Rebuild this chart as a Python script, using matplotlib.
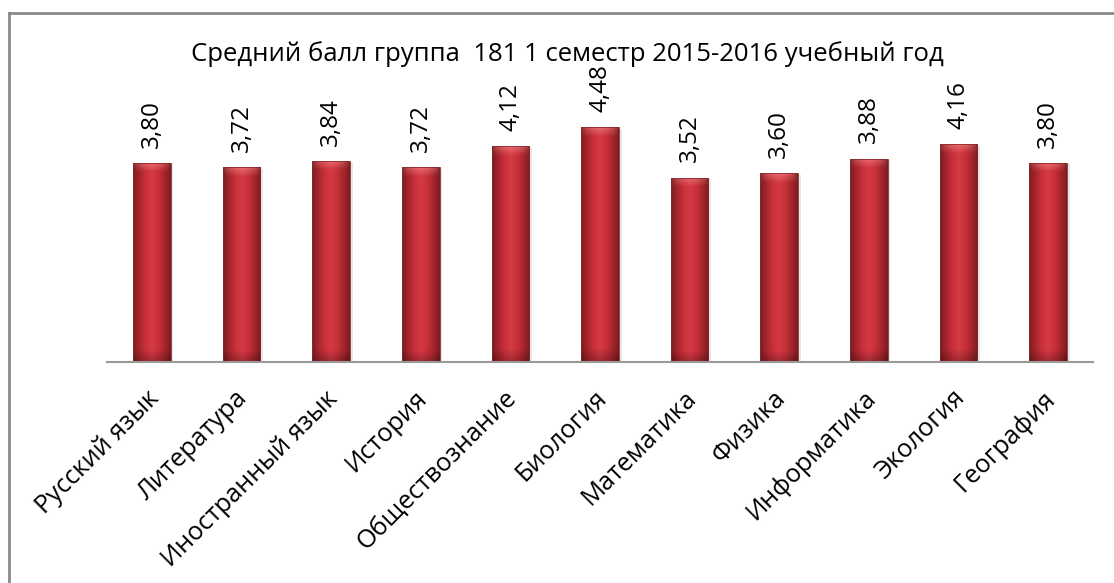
import numpy as np
import matplotlib
matplotlib.use("Agg")
import matplotlib.pyplot as plt
from matplotlib.colors import LinearSegmentedColormap
from matplotlib.patches import Rectangle
from matplotlib.lines import Line2D
from matplotlib.transforms import ScaledTranslation

plt.rcParams['font.family'] = ['Open Sans', 'DejaVu Sans']

subjects = ["Русский язык", "Литература", "Иностранный язык", "История",
            "Обществознание", "Биология", "Математика", "Физика",
            "Информатика", "Экология", "География"]
scores = [3.80, 3.72, 3.84, 3.72, 4.12, 4.48, 3.52, 3.60, 3.88, 4.16, 3.80]
title = "Средний балл группа  181 1 семестр 2015-2016 учебный год"

W, H, DPI = 1114, 583, 100
fig = plt.figure(figsize=(W / DPI, H / DPI), dpi=DPI)
fig.patch.set_facecolor("white")

# chart frame (only top/left edges fall inside the canvas)
fig.add_artist(Line2D([9 / W, 9 / W], [0, 1 - 13 / H], transform=fig.transFigure,
                      color="#8a8a8a", lw=2))
fig.add_artist(Line2D([9 / W, 1], [1 - 13 / H, 1 - 13 / H], transform=fig.transFigure,
                      color="#8a8a8a", lw=2))

ax = fig.add_axes([107 / W, (H - 362) / H, (1093 - 107) / W, (362 - 100) / H])
ax.set_xlim(-0.5, len(subjects) - 0.5)
ax.set_ylim(0, 5)
for s in ("top", "left", "right"):
    ax.spines[s].set_visible(False)
ax.spines["bottom"].set_color("#9a9a9a")
ax.spines["bottom"].set_linewidth(1.5)
ax.set_yticks([])
ax.tick_params(axis="x", length=0, pad=4)

x = np.arange(len(subjects))
bw = 0.42
bars = ax.bar(x, scores, width=bw, color="none", edgecolor="none", zorder=2)

# cylinder-like shading: dark edges, red body, light top cap
cyl = LinearSegmentedColormap.from_list(
    "cyl", ["#7a1c20", "#a8262d", "#c8303a", "#d63a44", "#c8303a", "#a8262d", "#7a1c20"])
nx, ny = 64, 200
tx = np.linspace(0, 1, nx)
for rect in bars:
    x0, w, h = rect.get_x(), rect.get_width(), rect.get_height()
    # soft drop shadow on the right
    ax.add_patch(Rectangle((x0 + 0.03, 0), w, h - 0.03, facecolor="#000000",
                           alpha=0.10, edgecolor="none", zorder=1.5))
    img = np.tile(tx, (ny, 1))
    rgba = cyl(img)
    ty = np.linspace(0, 1, ny)[:, None]  # 0 at top
    cap_px = 9 / 52.3 / h
    cap = np.clip(1 - ty / cap_px, 0, 1)
    mid = np.sin(np.pi * tx)[None, :] ** 0.5
    lift = (cap * mid)[..., None] * 0.5
    rgba[..., :3] = rgba[..., :3] * (1 - lift) + np.array([0.98, 0.62, 0.60]) * lift
    # slightly darker base
    base = np.clip((ty - 0.94) / 0.06, 0, 1)[..., None] * 0.25
    rgba[..., :3] = rgba[..., :3] * (1 - base)
    im = ax.imshow(rgba, extent=(x0, x0 + w, 0, h), aspect="auto",
                   interpolation="bilinear", zorder=2)
    im.set_clip_path(rect)
    ax.add_patch(Rectangle((x0, 0), w, h, facecolor="none", edgecolor="#8e2a2e",
                           lw=0.6, zorder=2.5))

for xi, v in zip(x, scores):
    ax.annotate(f"{v:.2f}".replace(".", ","), (xi, v), xytext=(0, 11),
                textcoords="offset points", rotation=90, ha="center", va="bottom",
                fontsize=17.5, color="black")

ax.set_xticks(x)
ax.set_xticklabels(subjects, rotation=45, ha="right", va="top",
                   rotation_mode="anchor", fontsize=18.3)
for lbl in ax.get_xticklabels():
    lbl.set_transform(lbl.get_transform() + ScaledTranslation(
        -6 / DPI, -18 / DPI, fig.dpi_scale_trans))

fig.text(567 / W, 1 - 54 / H, title, ha="center", va="center", fontsize=18.5)

fig.savefig("out.png", dpi=DPI)
